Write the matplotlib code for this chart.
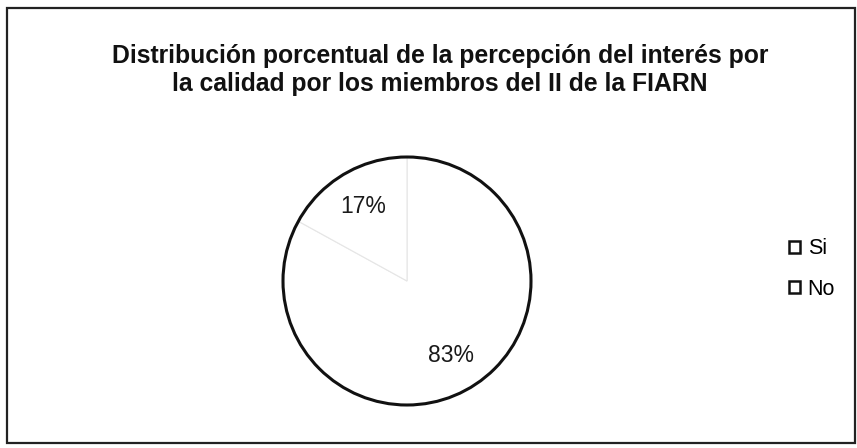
import matplotlib
matplotlib.use("Agg")
import matplotlib.pyplot as plt
from matplotlib.patches import Circle, Patch, Rectangle

plt.rcParams["font.family"] = ["Liberation Sans", "DejaVu Sans"]

# data
labels = ["Si", "No"]
values = [83, 17]
title = ("Distribución porcentual de la percepción del interés por\n"
         "la calidad por los miembros del II de la FIARN")

W, H = 857, 448
fig = plt.figure(figsize=(W / 100, H / 100), dpi=100)
fig.patch.set_facecolor("white")

# outer frame of the chart area
fig.patches.append(Rectangle((7 / W, 5 / H), 848 / W, 435 / H, transform=fig.transFigure,
                             fill=False, edgecolor="#222222", linewidth=1.6))

# pie placed by pixel centre / radius
cx, cy, r = 407, 281, 124
ax = fig.add_axes([(cx - r) / W, (H - cy - r) / H, 2 * r / W, 2 * r / H])
wedges, texts, autotexts = ax.pie(
    values,
    startangle=90,
    counterclock=False,
    colors=["white", "white"],
    wedgeprops=dict(edgecolor="#e6e6e6", linewidth=0.8),
    autopct="%1.0f%%",
    pctdistance=0.7,
    textprops=dict(fontsize=16.5, color="#1a1a1a"),
)
ax.add_patch(Circle((0, 0), 1.0, fill=False, edgecolor="#111111", linewidth=2.2, clip_on=False))
ax.set_xlim(-1, 1)
ax.set_ylim(-1, 1)
ax.set_aspect("equal")
ax.axis("off")

fig.text(440 / W, 1 - 70 / H, title, ha="center", va="center", fontsize=17.8,
         fontweight="bold", linespacing=1.22, color="#111111")

handles = [Patch(facecolor="white", edgecolor="#111111", linewidth=1.8) for _ in labels]
fig.legend(handles, labels, loc="center left", bbox_to_anchor=(770 / W, 1 - 269 / H),
           frameon=False, fontsize=15.5, handlelength=0.5, handleheight=0.5,
           handletextpad=0.35, labelspacing=0.9)

fig.savefig("out.png", dpi=100)
